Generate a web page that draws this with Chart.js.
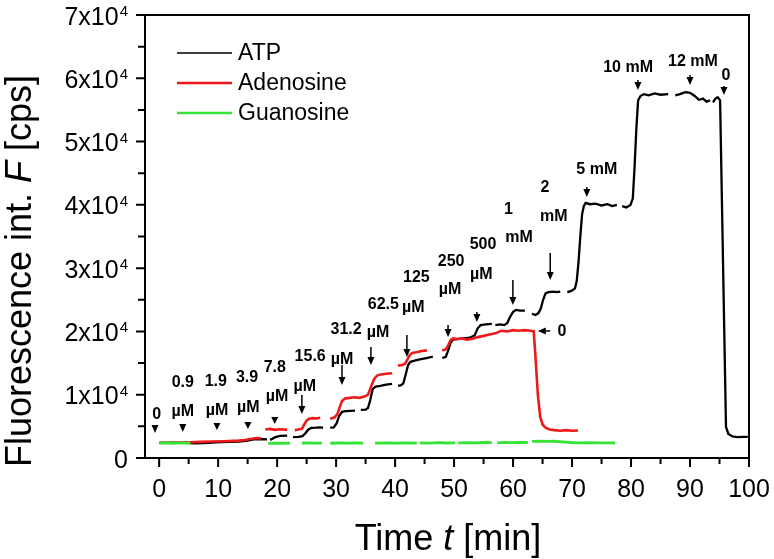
<!DOCTYPE html>
<html>
<head>
<meta charset="utf-8">
<script src="https://cdn.jsdelivr.net/npm/chart.js@4.4.0/dist/chart.umd.min.js"></script>
<style>html,body{margin:0;padding:0;background:#fff}canvas{display:block}</style>
</head>
<body>
<canvas id="c" width="774" height="559"></canvas>
<script>
// ── data: time [min] / fluorescence [cps]; null = gap in the trace ──
const atpT=[0,1.5,3,4.5,6,7.5,9,10.5,12,13.5,15,16,17,18.3,18.55,
 18.8,19.7,20.5,21.7,22.2,
 22.7,23.6,24.3,24.8,25.3,25.8,26.6,27.2,27.8,28.4,
 29.0,29.6,30.1,30.5,31.0,31.6,32.4,33.2,33.7,
 34.2,35.0,35.4,35.8,36.2,36.7,37.5,38.5,39.5,40.0,
 40.5,41.0,41.4,41.8,42.2,42.6,43.3,44.2,45.3,46.4,47.2,
 48.0,48.6,49.0,49.4,49.8,50.6,51.6,52.7,53.5,54.0,54.5,55.4,56.4,56.7,
 57.0,57.8,58.5,59.0,59.5,60.0,60.5,61.2,62.0,62.6,
 63.2,63.8,64.3,64.7,65.1,65.5,66.0,66.8,67.4,68.0,68.6,
 69.2,69.9,70.5,70.8,71.1,71.4,71.7,72.0,72.3,73.0,74.0,75.0,76.0,76.8,77.6,78.0,
 78.5,79.2,79.9,80.3,80.6,80.9,81.2,81.6,82.2,83.0,84.0,85.0,86.3,86.9,
 87.5,88.3,89.2,90.0,90.8,91.5,92.2,92.8,93.4,93.6,
 93.9,94.3,94.7,95.1,96.1,96.5,97.2,98.0,99.0,99.8];
const atpF=[2400,2380,2420,2400,2300,2350,2450,2500,2550,2600,2750,2950,3000,2950,null,
 2850,3300,3500,3550,null,
 3300,3350,3450,3900,4500,4750,4800,4850,4800,null,
 4800,4850,5500,6600,7300,7400,7450,7500,null,
 7600,7650,7900,9200,10900,11300,11400,11600,11700,null,
 11400,11500,11800,13200,14700,15200,15400,15600,15800,16000,null,
 15800,16000,17000,18200,18700,18800,18900,19000,19400,20500,21000,21100,21200,null,
 21000,21100,21000,21300,22300,23100,23400,23300,23300,null,
 22800,22600,22900,23600,25000,26000,26200,26300,26200,26300,null,
 26200,26400,26800,28000,31000,35000,38500,39800,40300,40100,40200,39900,40100,39800,40000,null,
 39800,39600,40000,41000,46000,52000,56500,57200,57500,57300,57600,57400,57500,null,
 57300,57500,57800,57700,57200,56600,56800,56300,56500,null,
 56200,56800,57000,56500,4900,3800,3400,3300,3350,3350];

const adoT=[0,2,4,5.3,7,9,11,12.5,13.5,14.5,15.5,16.5,17.3,17.6,
 18.0,18.8,19.6,20.4,21.2,21.7,22.3,
 23.0,23.6,24.2,24.6,25.0,25.4,26.0,26.7,27.3,28.2,
 29.0,29.7,30.2,30.6,31.0,31.5,32.3,33.2,34.0,34.8,35.4,35.9,36.4,36.9,37.5,38.5,39.5,40.0,
 40.5,41.2,41.7,42.1,42.5,42.9,43.6,44.5,45.4,46.7,
 48.0,48.6,49.0,49.4,49.8,50.5,51.3,52.2,53.0,54.0,55.0,56.0,57.0,58.0,59.0,60.0,61.0,62.0,63.0,63.5,
 63.8,64.2,64.6,65.0,65.5,66.2,67.0,68.0,69.0,70.0,71.0];
const adoF=[2400,2420,2450,2500,2550,2600,2650,2700,2750,2850,3000,3150,3100,null,
 4500,4600,4450,4550,4500,4450,null,
 4400,4500,4600,5300,5900,6200,6300,6250,6350,null,
 6200,6400,6900,8000,9000,9400,9500,9600,9500,9700,10000,11200,12400,13000,13200,13300,13400,null,
 14600,14700,14900,15600,16300,16600,16700,16900,17000,null,
 17000,17200,17800,18600,18900,18800,18900,18700,18800,19100,19300,19500,19700,20100,20000,20200,20100,20200,20100,20000,
 16000,10000,6500,5300,4800,4500,4400,4300,4400,4300,4350];

const guoT=[0,1.2,2.4,3.6,5.3,11,
 18.5,19.8,21.0,22.2,23.2,
 24.2,25.4,26.5,27.6,28.3,
 29.0,30.5,32.0,33.3,34.6,35.6,
 36.6,38.5,40.2,42.0,43.7,43.95,
 44.2,45.8,47.3,48.8,50.2,50.45,
 50.7,52.2,53.6,55.0,56.4,56.85,
 57.3,58.6,59.9,61.2,62.5,62.85,
 63.2,64.5,65.8,67.0,68.3,69.8,71.4,73.0,74.6,76.0,77.3];
const guoF=[2350,2400,2330,2380,2350,null,
 2300,2350,2320,2350,null,
 2350,2380,2340,2360,null,
 2330,2370,2350,2380,2340,null,
 2350,2380,2340,2400,2360,null,
 2380,2350,2420,2370,2400,null,
 2400,2440,2380,2450,2420,null,
 2400,2460,2430,2480,2450,null,
 2620,2660,2640,2650,2560,2450,2400,2420,2380,2400,2370];

const seriesNames=['ATP','Adenosine','Guanosine'];
const xTicks=[0,10,20,30,40,50,60,70,80,90,100];
const xMinor=[5,15,25,35,45,55,65,75,85,95];
const yTicks=[0,10000,20000,30000,40000,50000,60000,70000];
const yMinor=[5000,15000,25000,35000,45000,55000,65000];

// concentration labels [t, F, text] and arrows [t, Ffrom, Fto]
const annLabels=[
 [-0.4,6800,'0'],
 [4.0,11850,'0.9'],[4.0,7270,'µM'],
 [9.6,12000,'1.9'],[9.8,7430,'µM'],
 [14.9,12640,'3.9'],[15.1,7900,'µM'],
 [19.6,14220,'7.8'],[20.0,9640,'µM'],
 [25.6,15960,'15.6'],[24.7,11220,'µM'],
 [31.0,15480,'µM'],
 [31.7,20220,'31.2'],[37.1,19750,'µM'],
 [38.0,24170,'62.5'],[43.1,23700,'µM'],
 [43.6,28440,'125'],
 [49.5,30970,'250'],[49.3,26540,'µM'],
 [54.9,33650,'500'],[54.6,28910,'µM'],
 [59.2,39180,'1'],[61.0,34760,'mM'],
 [65.4,42660,'2'],[66.9,38080,'mM'],
 [74.2,45500,'5 mM'],
 [79.5,61620,'10 mM'],
 [90.5,62570,'12 mM'],
 [96.1,60360,'0'],
 [68.3,19910,'0']
];
const annArrows=[
 [-0.7,5210,3950],[4.0,5370,4110],[9.8,5530,4420],[15.05,5690,4580],[19.6,6480,5370],
 [24.2,9950,6950],[31.0,14690,11530],[35.9,17540,14690],[42.0,19430,15960],
 [48.98,21010,19120],[53.86,23070,21490],[59.97,28120,24170],[66.3,32390,28120],
 [72.5,42820,41240],[81.17,59720,58140],[90.0,60510,58930],[95.75,58780,57350]
];
// horizontal arrow [tFrom, tTo, F]
const annArrowsH=[[66.3,64.2,20070]];

const FF='"Liberation Sans", Arial, sans-serif';
const mk=(T,F)=>T.map((t,i)=>({x:t,y:F[i]}));

function rich(ctx,parts,x,y){
  let w=0;parts.forEach(p=>{ctx.font=p[1];w+=ctx.measureText(p[0]).width;});
  let cx=x-w/2;
  ctx.textAlign='left';
  parts.forEach(p=>{ctx.font=p[1];ctx.fillText(p[0],cx,y);cx+=ctx.measureText(p[0]).width;});
}

function arrow(ctx,x0,y0,x1,y1){
  const L=Math.hypot(x1-x0,y1-y0),ux=(x1-x0)/L,uy=(y1-y0)/L,hl=Math.min(8,L),hw=3.5;
  const bx=x1-ux*hl,by=y1-uy*hl;
  if(L>hl){ctx.beginPath();ctx.moveTo(x0,y0);ctx.lineTo(bx,by);ctx.stroke();}
  ctx.beginPath();ctx.moveTo(x1,y1);ctx.lineTo(bx-uy*hw,by+ux*hw);ctx.lineTo(bx+uy*hw,by-ux*hw);ctx.closePath();ctx.fill();
}

const deco={
  id:'deco',
  afterDatasetsDraw(ch){
    const {ctx,chartArea:a,scales:{x,y}}=ch;
    ctx.save();
    ctx.fillStyle='#000';ctx.strokeStyle='#000';
    // frame
    ctx.lineWidth=2;
    ctx.beginPath();ctx.moveTo(a.left,a.bottom);ctx.lineTo(a.left,a.top);ctx.lineTo(a.right,a.top);ctx.lineTo(a.right,a.bottom);ctx.lineTo(a.left,a.bottom);ctx.stroke();
    // ticks
    ctx.beginPath();
    xTicks.forEach(v=>{const p=x.getPixelForValue(v);ctx.moveTo(p,a.bottom);ctx.lineTo(p,a.bottom+9);});
    xMinor.forEach(v=>{const p=x.getPixelForValue(v);ctx.moveTo(p,a.bottom);ctx.lineTo(p,a.bottom+6);});
    yTicks.forEach(v=>{const p=y.getPixelForValue(v);ctx.moveTo(a.left,p);ctx.lineTo(a.left-9,p);});
    yMinor.forEach(v=>{const p=y.getPixelForValue(v);ctx.moveTo(a.left,p);ctx.lineTo(a.left-7,p);});
    ctx.stroke();
    // tick labels
    ctx.textBaseline='alphabetic';
    ctx.font='25px '+FF;ctx.textAlign='center';
    xTicks.forEach(v=>ctx.fillText(String(v),x.getPixelForValue(v),a.bottom+39));
    yTicks.forEach(v=>{
      const p=y.getPixelForValue(v),r=a.left-17;
      if(v===0){ctx.font='25px '+FF;ctx.textAlign='right';ctx.fillText('0',r,p+9.5);return;}
      ctx.font='15px '+FF;const sw=ctx.measureText('4').width;
      ctx.textAlign='left';ctx.fillText('4',r-sw,p+1);
      ctx.font='25px '+FF;ctx.textAlign='right';ctx.fillText((v/10000)+'x10',r-sw-1,p+9.5);
    });
    // axis titles
    rich(ctx,[['Time ','36px '+FF],['t','italic 36px '+FF],[' [min]','36px '+FF]],448,550);
    ctx.save();ctx.translate(31,271);ctx.rotate(-Math.PI/2);
    rich(ctx,[['Fluorescence int. ','36px '+FF],['F','italic 36px '+FF],[' [cps]','36px '+FF]],0,0);
    ctx.restore();
    // legend
    ch.data.datasets.forEach((d,i)=>{
      const ly=53+30*i;
      ctx.strokeStyle=d.borderColor;ctx.lineWidth=i===0?1.6:2.6;
      ctx.beginPath();ctx.moveTo(177,ly);ctx.lineTo(232,ly);ctx.stroke();
      ctx.fillStyle='#000';ctx.font='23px '+FF;ctx.textAlign='left';ctx.textBaseline='middle';
      ctx.fillText(d.label,238,ly+1);
    });
    // concentration annotations
    ctx.fillStyle='#000';ctx.strokeStyle='#000';ctx.lineWidth=1.5;
    ctx.font='bold 16px '+FF;ctx.textAlign='center';ctx.textBaseline='middle';
    annLabels.forEach(([t,f,s])=>ctx.fillText(s,x.getPixelForValue(t),y.getPixelForValue(f)));
    annArrows.forEach(([t,f0,f1])=>{const px=x.getPixelForValue(t);arrow(ctx,px,y.getPixelForValue(f0),px,y.getPixelForValue(f1));});
    annArrowsH.forEach(([t0,t1,f])=>{const py=y.getPixelForValue(f);arrow(ctx,x.getPixelForValue(t0),py,x.getPixelForValue(t1),py);});
    ctx.restore();
  }
};

new Chart(document.getElementById('c'),{
  type:'line',
  data:{datasets:[
    {label:seriesNames[0],data:mk(atpT,atpF),borderColor:'#000000',borderWidth:2.3,order:2},
    {label:seriesNames[1],data:mk(adoT,adoF),borderColor:'#ee1a1a',borderWidth:2.6,order:1},
    {label:seriesNames[2],data:mk(guoT,guoF),borderColor:'#35e335',borderWidth:2.8,order:0}
  ]},
  options:{
    responsive:false,animation:false,
    layout:{padding:{left:145,right:25,top:15,bottom:101}},
    elements:{point:{radius:0},line:{tension:0,spanGaps:false}},
    spanGaps:false,
    plugins:{legend:{display:false},tooltip:{enabled:false}},
    scales:{
      x:{type:'linear',min:-2.4,max:100,display:false},
      y:{type:'linear',min:0,max:70000,display:false}
    }
  },
  plugins:[deco]
});
</script>
</body>
</html>
